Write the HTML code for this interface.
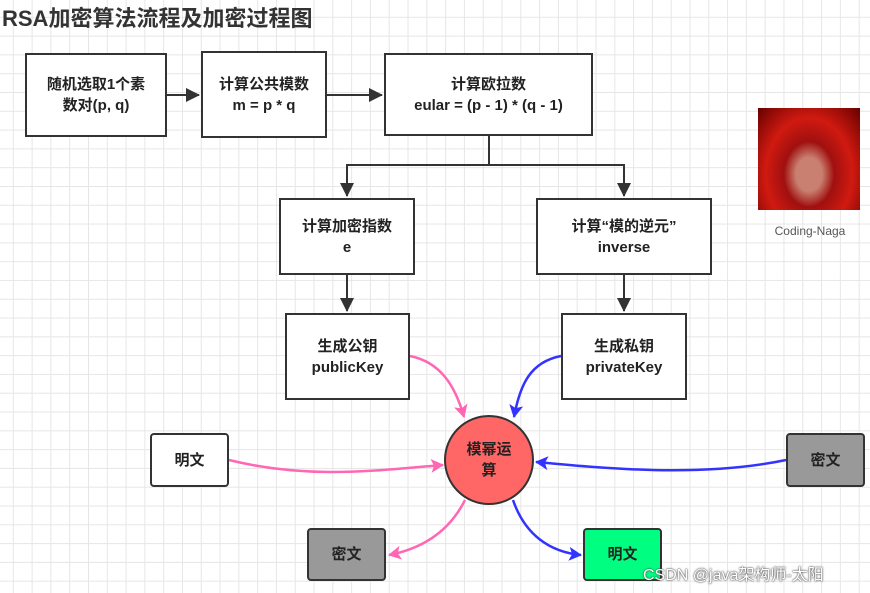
<!DOCTYPE html>
<html><head><meta charset="utf-8"><style>
body{margin:0;width:870px;height:593px;overflow:hidden;background:#fff;
background-image:linear-gradient(#e6e6e6 1px,transparent 1px),linear-gradient(90deg,#e6e6e6 1px,transparent 1px);
background-size:18.8px 18.8px;background-position:-6px -2px;font-family:"Liberation Sans","Noto Sans CJK SC",sans-serif;position:relative}
.b{position:absolute;box-sizing:border-box;border:2px solid #333;background:#fff;display:flex;align-items:center;justify-content:center;text-align:center;font-weight:bold;font-size:15px;color:#222;line-height:21px}
</style></head><body>
<div style="position:absolute;left:2px;top:1px;font-size:22px;font-weight:bold;color:#333">RSA加密算法流程及加密过程图</div>
<svg width="870" height="593" style="position:absolute;left:0;top:0">
<defs>
<marker id="k" markerWidth="14" markerHeight="14" refX="13" refY="7" orient="auto" markerUnits="userSpaceOnUse"><path d="M0,0L14,7L0,14z" fill="#333"/></marker>
<marker id="p" markerWidth="14" markerHeight="14" refX="12" refY="7" orient="auto" markerUnits="userSpaceOnUse"><path d="M0,0L13,7L0,14L3,7z" fill="#ff66b3"/></marker>
<marker id="u" markerWidth="14" markerHeight="14" refX="12" refY="7" orient="auto" markerUnits="userSpaceOnUse"><path d="M0,0L13,7L0,14L3,7z" fill="#3333ff"/></marker>
</defs>
<g stroke="#333" stroke-width="2" fill="none">
<path d="M167,95H199" marker-end="url(#k)"/>
<path d="M327,95H382" marker-end="url(#k)"/>
<path d="M489,136V165H347V196" marker-end="url(#k)"/>
<path d="M489,165H624V196" marker-end="url(#k)"/>
<path d="M347,275V311" marker-end="url(#k)"/>
<path d="M624,275V311" marker-end="url(#k)"/>
</g>
<g stroke-width="2.5" fill="none">
<path d="M410,356C440,362 455,385 464,417" stroke="#ff66b3" marker-end="url(#p)"/>
<path d="M561,356C530,362 520,385 514,417" stroke="#3333ff" marker-end="url(#u)"/>
<path d="M229,460C310,480 380,470 443,465" stroke="#ff66b3" marker-end="url(#p)"/>
<path d="M786,460C700,478 600,468 536,462" stroke="#3333ff" marker-end="url(#u)"/>
<path d="M465,500C450,530 425,548 389,555" stroke="#ff66b3" marker-end="url(#p)"/>
<path d="M513,500C525,535 550,552 581,555" stroke="#3333ff" marker-end="url(#u)"/>
</g>
<circle cx="489" cy="460" r="44" fill="#ff6666" stroke="#333" stroke-width="2"/>
</svg>
<div class="b" style="left:25px;top:53px;width:142px;height:84px">随机选取1个素<br>数对(p, q)</div>
<div class="b" style="left:201px;top:51px;width:126px;height:87px">计算公共模数<br>m = p * q</div>
<div class="b" style="left:384px;top:53px;width:209px;height:83px">计算欧拉数<br>eular = (p - 1) * (q - 1)</div>
<div class="b" style="left:279px;top:198px;width:136px;height:77px">计算加密指数<br>e</div>
<div class="b" style="left:536px;top:198px;width:176px;height:77px">计算“模的逆元”<br>inverse</div>
<div class="b" style="left:285px;top:313px;width:125px;height:87px">生成公钥<br>publicKey</div>
<div class="b" style="left:561px;top:313px;width:126px;height:87px">生成私钥<br>privateKey</div>
<div class="b" style="left:445px;top:416px;width:88px;height:88px;border:none;background:none">模幂运<br>算</div>
<div class="b" style="left:150px;top:433px;width:79px;height:54px;border-radius:4px">明文</div>
<div class="b" style="left:786px;top:433px;width:79px;height:54px;border-radius:4px;background:#999">密文</div>
<div class="b" style="left:307px;top:528px;width:79px;height:53px;border-radius:4px;background:#999">密文</div>
<div class="b" style="left:583px;top:528px;width:79px;height:53px;border-radius:4px;background:#00ff80">明文</div>
<div style="position:absolute;left:758px;top:108px;width:102px;height:102px;background:radial-gradient(ellipse at 50% 65%,#c98070 0 18%,#a01010 35%,#d01a10 60%,#600 100%)"></div>
<div style="position:absolute;left:750px;top:224px;width:120px;text-align:center;font-size:12px;color:#555">Coding-Naga</div>
<div style="position:absolute;left:643px;top:561px;font-size:16px;color:#fff;text-shadow:0 0 2px #444,0 0 1px #333">CSDN @java架构师-太阳</div>
</body></html>
